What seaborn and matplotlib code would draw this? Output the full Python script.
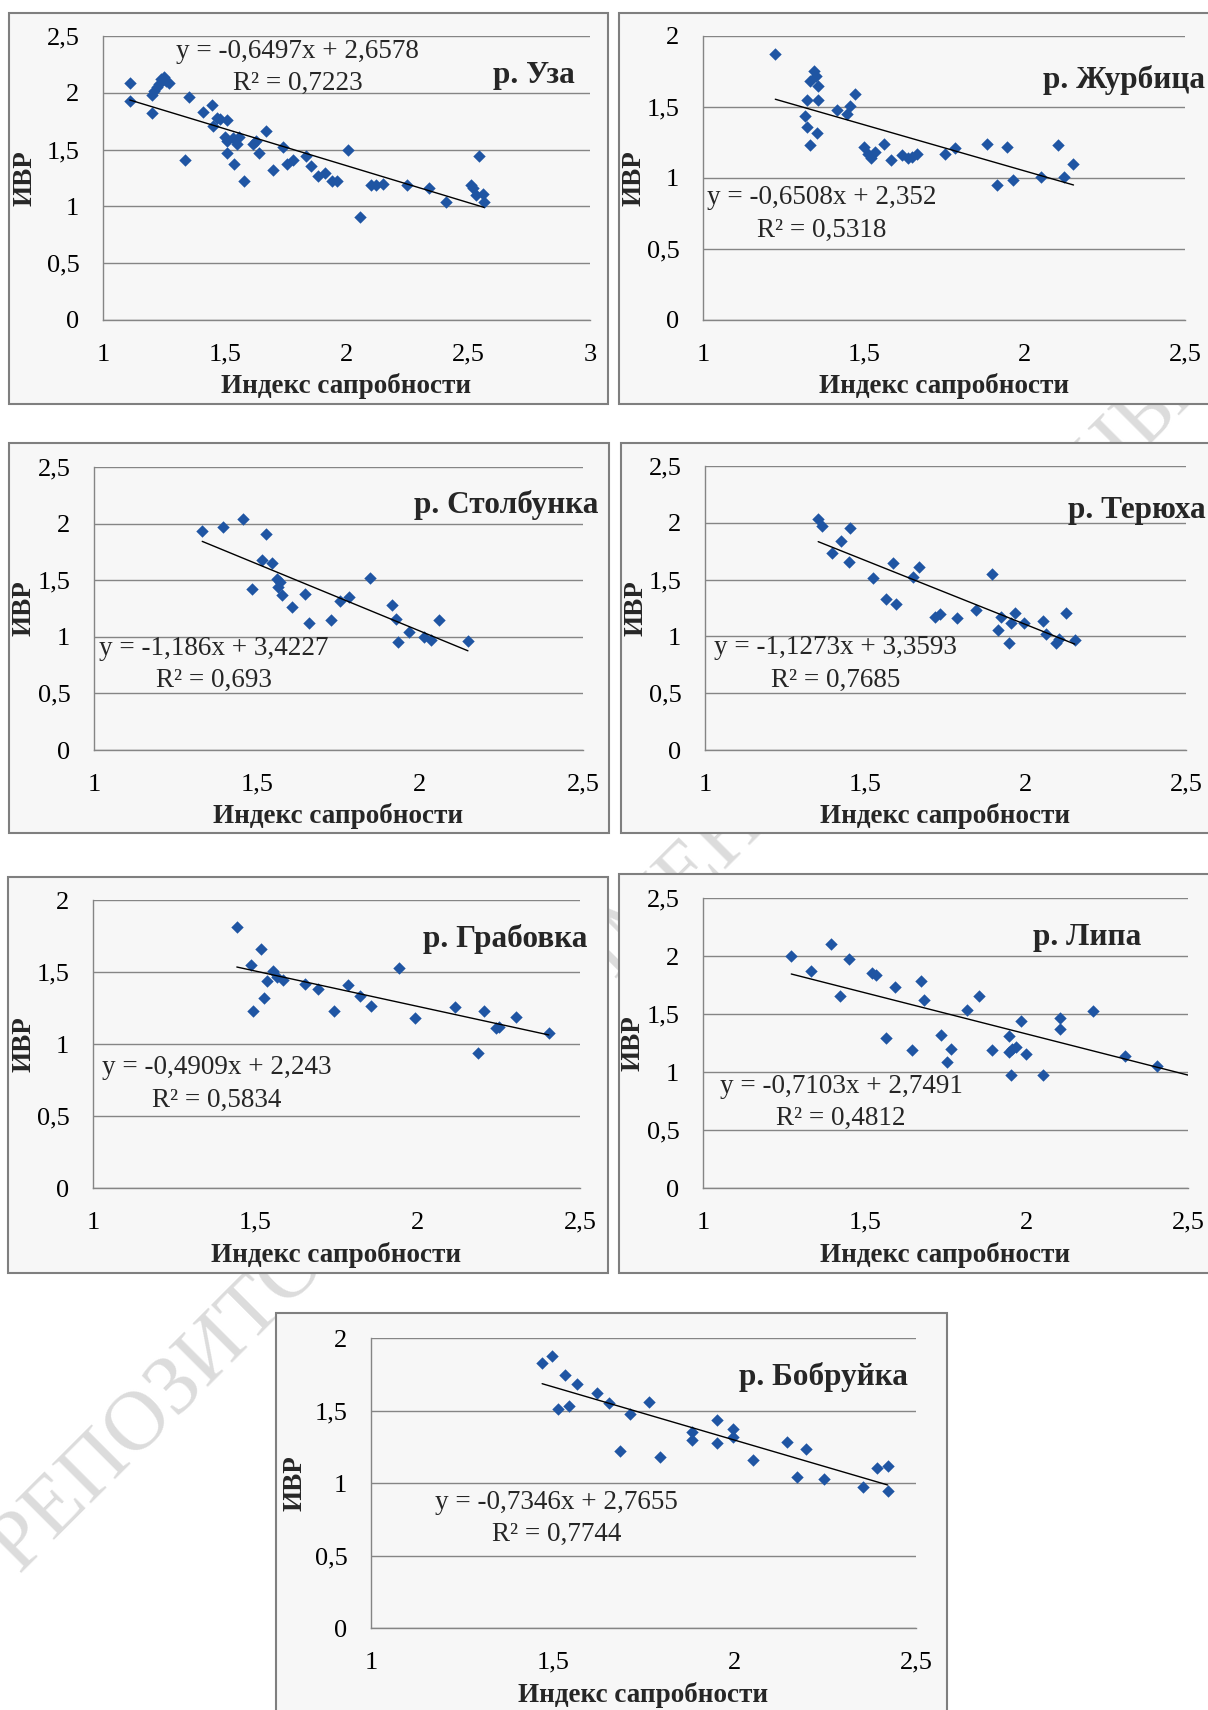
import matplotlib

matplotlib.use("Agg")
import matplotlib.pyplot as plt
import numpy as np
import seaborn as sns
from matplotlib import ticker
from matplotlib.patches import Rectangle

# ---- Data ----
rivers = ["р. Уза", "р. Журбица", "р. Столбунка", "р. Терюха",
          "р. Грабовка", "р. Липа", "р. Бобруйка"]

uza_x = [1.11, 1.11, 1.20, 1.21, 1.22, 1.23, 1.24, 1.25, 1.26, 1.27, 1.20, 1.335,
         1.355, 1.41, 1.447, 1.45, 1.47, 1.48, 1.51, 1.50, 1.51, 1.51, 1.535, 1.54,
         1.55, 1.56, 1.58, 1.615, 1.63, 1.64, 1.67, 1.70, 1.74, 1.755, 1.78, 1.835,
         1.855, 1.885, 1.91, 1.94, 1.96, 2.006, 2.054, 2.10, 2.12, 2.15, 2.25, 2.34,
         2.41, 2.51, 2.52, 2.53, 2.545, 2.56, 2.565]
uza_y = [2.09, 1.93, 1.98, 2.02, 2.05, 2.08, 2.12, 2.14, 2.10, 2.09, 1.82, 1.41,
         1.96, 1.83, 1.89, 1.71, 1.78, 1.77, 1.76, 1.61, 1.58, 1.47, 1.60, 1.37,
         1.55, 1.61, 1.22, 1.55, 1.58, 1.47, 1.66, 1.32, 1.52, 1.37, 1.41, 1.44,
         1.36, 1.27, 1.29, 1.22, 1.22, 1.50, 0.91, 1.19, 1.19, 1.20, 1.19, 1.16,
         1.04, 1.19, 1.16, 1.10, 1.44, 1.11, 1.04]

zhurb_x = [1.225, 1.317, 1.323, 1.323, 1.334, 1.334, 1.346, 1.352, 1.358, 1.358,
           1.355, 1.417, 1.447, 1.456, 1.474, 1.50, 1.512, 1.524, 1.536, 1.563,
           1.586, 1.619, 1.637, 1.649, 1.666, 1.753, 1.785, 1.883, 1.915, 1.945,
           1.965, 2.052, 2.105, 2.123, 2.153]
zhurb_y = [1.876, 1.44, 1.55, 1.36, 1.23, 1.68, 1.75, 1.72, 1.65, 1.55,
           1.32, 1.48, 1.45, 1.51, 1.59, 1.22, 1.17, 1.14, 1.18, 1.24,
           1.13, 1.16, 1.14, 1.15, 1.17, 1.17, 1.21, 1.24, 0.95, 1.22,
           0.985, 1.01, 1.23, 1.01, 1.10]

stolb_x = [1.332, 1.395, 1.457, 1.527, 1.485, 1.515, 1.547, 1.561, 1.565, 1.571,
           1.577, 1.607, 1.646, 1.658, 1.726, 1.756, 1.783, 1.846, 1.915, 1.927,
           1.932, 1.965, 2.013, 2.034, 2.058, 2.147]
stolb_y = [1.935, 1.97, 2.04, 1.906, 1.42, 1.68, 1.65, 1.51, 1.44, 1.485,
           1.37, 1.265, 1.376, 1.12, 1.15, 1.32, 1.35, 1.52, 1.28, 1.16,
           0.95, 1.04, 1.00, 0.97, 1.15, 0.965]

teryu_x = [1.353, 1.365, 1.397, 1.424, 1.448, 1.452, 1.525, 1.565, 1.585, 1.597,
           1.648, 1.666, 1.716, 1.733, 1.785, 1.846, 1.896, 1.915, 1.924, 1.947,
           1.953, 1.968, 1.995, 2.054, 2.064, 2.096, 2.105, 2.126, 2.153]
teryu_y = [2.037, 1.97, 1.735, 1.84, 1.656, 1.958, 1.515, 1.33, 1.65, 1.284,
           1.524, 1.61, 1.17, 1.20, 1.166, 1.23, 1.553, 1.06, 1.17, 0.944,
           1.12, 1.207, 1.114, 1.137, 1.02, 0.944, 0.98, 1.207, 0.967]

grab_x = [1.443, 1.487, 1.493, 1.517, 1.526, 1.535, 1.553, 1.567, 1.586, 1.654,
          1.694, 1.742, 1.786, 1.822, 1.855, 1.941, 1.993, 2.115, 2.187, 2.205,
          2.241, 2.252, 2.304, 2.404]
grab_y = [1.815, 1.549, 1.23, 1.66, 1.318, 1.438, 1.51, 1.468, 1.445, 1.417,
          1.383, 1.232, 1.41, 1.336, 1.267, 1.526, 1.184, 1.26, 0.936, 1.232,
          1.11, 1.117, 1.186, 1.075]

lipa_x = [1.273, 1.334, 1.396, 1.423, 1.452, 1.522, 1.534, 1.565, 1.594, 1.646,
          1.673, 1.685, 1.736, 1.754, 1.768, 1.815, 1.853, 1.895, 1.945, 1.945,
          1.957, 1.968, 1.954, 1.983, 1.998, 2.053, 2.104, 2.104, 2.205, 2.305,
          2.405]
lipa_y = [2.00, 1.868, 2.106, 1.652, 1.971, 1.856, 1.839, 1.293, 1.733, 1.187,
          1.784, 1.618, 1.316, 1.086, 1.201, 1.532, 1.652, 1.187, 1.31, 1.172,
          1.201, 1.216, 0.977, 1.44, 1.158, 0.977, 1.374, 1.466, 1.526, 1.138,
          1.049]

bobr_x = [1.471, 1.498, 1.533, 1.515, 1.545, 1.567, 1.623, 1.655, 1.684, 1.712,
          1.766, 1.796, 1.883, 1.883, 1.953, 1.953, 1.996, 1.996, 2.052, 2.144,
          2.172, 2.196, 2.247, 2.354, 2.393, 2.422, 2.422]
bobr_y = [1.828, 1.874, 1.743, 1.509, 1.532, 1.681, 1.624, 1.555, 1.222, 1.479,
          1.56, 1.177, 1.349, 1.296, 1.433, 1.273, 1.372, 1.319, 1.158, 1.284,
          1.039, 1.234, 1.025, 0.975, 1.101, 1.119, 0.947]

xs = [uza_x, zhurb_x, stolb_x, teryu_x, grab_x, lipa_x, bobr_x]
ys = [uza_y, zhurb_y, stolb_y, teryu_y, grab_y, lipa_y, bobr_y]

# trendline coefficients and R² as printed on the chart
slopes = [-0.6497, -0.6508, -1.186, -1.1273, -0.4909, -0.7103, -0.7346]
intercepts = [2.6578, 2.352, 3.4227, 3.3593, 2.243, 2.7491, 2.7655]
r2_values = [0.7223, 0.5318, 0.693, 0.7685, 0.5834, 0.4812, 0.7744]
trend_end = [None, None, None, None, None, 2.5, None]

x_max = [3, 2.5, 2.5, 2.5, 2.5, 2.5, 2.5]
y_max = [2.5, 2, 2.5, 2.5, 2, 2.5, 2]

# ---- Layout (pixels of a 1208x1710 canvas) ----
W, H = 1208, 1710
# plot area: left, right, top, bottom
plot_px = [(103, 590, 36, 320), (703, 1185, 36, 320),
           (94, 583, 467, 750), (705, 1186, 466, 750),
           (93, 580, 900, 1188), (703, 1188, 898, 1188),
           (371, 916, 1338, 1628)]
# chart frames: left, right, top, bottom
frame_px = [(9, 608, 13, 404), (619, 1220, 13, 404),
            (9, 609, 443, 833), (621, 1220, 443, 833),
            (8, 608, 877, 1273), (619, 1220, 874, 1273),
            (276, 947, 1313, 1720)]
eq_pos = [(0.40, 0.889), (0.247, 0.373), (0.245, 0.302), (0.272, 0.303),
          (0.255, 0.361), (0.285, 0.295), (0.341, 0.378)]
title_pos = [(0.80, 0.835), (0.705, 0.817), (0.654, 0.837), (0.755, 0.817),
             (0.678, 0.837), (0.68, 0.838), (0.675, 0.838)]
ylabel_x = [-0.135, -0.118, -0.117, -0.118, -0.117, -0.118, -0.117]

sns.set_theme(style="white")
plt.rcParams["font.family"] = ["Liberation Serif", "DejaVu Serif"]

fig = plt.figure(figsize=(W / 100, H / 100), dpi=100)
fig.patch.set_facecolor("white")

# Watermark behind the charts
fig.text(20 / W, 1 - 1575 / H, "РЕПОЗИТОРИЙ ГГУ ИМЕНИ Ф. СКОРИНЫ",
         rotation=45, rotation_mode="anchor", ha="left", va="baseline",
         fontsize=61, color="#dcdcdc", zorder=-3)

dot_color = "#1f55a3"
grid_color = "#858585"


def fmt(v, pos):
    return f"{v:g}".replace(".", ",")


for i in range(7):
    l, r, t, b = frame_px[i]
    fig.add_artist(Rectangle((l / W, 1 - b / H), (r - l) / W, (b - t) / H,
                             transform=fig.transFigure, facecolor="#f7f7f7",
                             edgecolor="#7f7f7f", linewidth=1.5, zorder=-1))

    l, r, t, b = plot_px[i]
    ax = fig.add_axes([l / W, 1 - b / H, (r - l) / W, (b - t) / H])
    ax.set_facecolor("none")

    sns.scatterplot(x=xs[i], y=ys[i], marker="D", s=40, color=dot_color,
                    linewidth=0, ax=ax, zorder=3)

    x0 = min(xs[i])
    x1 = trend_end[i] if trend_end[i] is not None else max(xs[i])
    tx = np.array([x0, x1])
    ax.plot(tx, slopes[i] * tx + intercepts[i], color="black", linewidth=1.0, zorder=4)

    ax.set_xlim(1, x_max[i])
    ax.set_ylim(0, y_max[i])
    ax.xaxis.set_major_locator(ticker.MultipleLocator(0.5))
    ax.yaxis.set_major_locator(ticker.MultipleLocator(0.5))
    ax.xaxis.set_major_formatter(ticker.FuncFormatter(fmt))
    ax.yaxis.set_major_formatter(ticker.FuncFormatter(fmt))
    ax.tick_params(axis="x", length=0, pad=17, labelsize=19, colors="black")
    ax.tick_params(axis="y", length=0, pad=17, labelsize=19, colors="black")

    ax.yaxis.grid(True, color=grid_color, linewidth=1.0)
    ax.xaxis.grid(False)
    ax.set_axisbelow(True)
    for side in ["top", "right"]:
        ax.spines[side].set_visible(False)
    for side in ["left", "bottom"]:
        ax.spines[side].set_color(grid_color)
        ax.spines[side].set_linewidth(1.0)

    ax.set_xlabel("Индекс сапробности", fontsize=19.5, fontweight="bold")
    ax.set_ylabel("ИВР", fontsize=19.5, fontweight="bold")
    ax.xaxis.set_label_coords(0.5, -0.232)
    ax.xaxis.label.set_verticalalignment("center")
    ax.yaxis.set_label_coords(ylabel_x[i], 0.5)

    b_str = f"{intercepts[i]:g}".replace(".", ",")
    k_str = f"{slopes[i]:g}".replace(".", ",")
    r_str = f"{r2_values[i]:g}".replace(".", ",")
    ax.text(eq_pos[i][0], eq_pos[i][1], f"y = {k_str}x + {b_str}\nR² = {r_str}",
            transform=ax.transAxes, ha="center", va="center",
            multialignment="center", fontsize=19.5, linespacing=1.4, zorder=5)
    ax.text(title_pos[i][0], title_pos[i][1], rivers[i], transform=ax.transAxes,
            ha="left", va="baseline", fontsize=22.5, fontweight="bold", zorder=5)

fig.savefig("out.png", dpi=100, facecolor="white")
